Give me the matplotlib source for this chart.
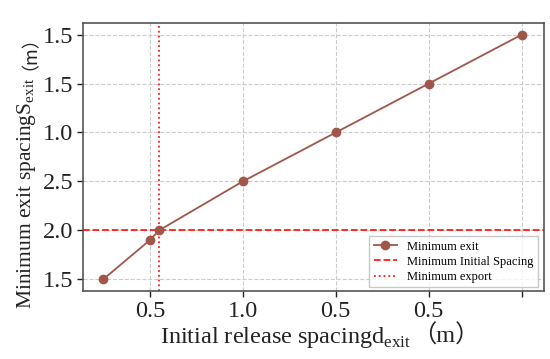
import matplotlib
matplotlib.use('Agg')
import matplotlib.pyplot as plt
from matplotlib.transforms import IdentityTransform

# Data
release_spacing = [0.25, 0.5, 0.55, 1.0, 1.5, 2.0, 2.5]
exit_spacing = [1.5, 1.9, 2.0, 2.5, 3.0, 3.5, 4.0]
min_initial_spacing = 2.0
min_export = 0.55

x_ticks = [0.5, 1.0, 1.5, 2.0, 2.5]
x_tick_labels = ['0.5', '1.0', '0.5', '0.5', '']
y_ticks = [1.5, 2.0, 2.5, 3.0, 3.5, 4.0]
y_tick_labels = ['1.5', '2.0', '2.5', '1.0', '1.5', '1.5']

x_label = 'Initial release spacingd$_{\\mathrm{exit}}$'
y_label = 'Minimum exit spacingS$_{\\mathrm{exit}}$'
unit = '（m）'

plt.rcParams['font.family'] = ['Liberation Serif', 'Noto Sans CJK SC', 'DejaVu Sans']
plt.rcParams['mathtext.fontset'] = 'custom'
plt.rcParams['mathtext.rm'] = 'Liberation Serif'

fig, ax = plt.subplots(figsize=(5.5, 3.59), dpi=100)
fig.subplots_adjust(left=0.151, right=0.989, top=0.936, bottom=0.189)

line_color = '#A0564A'
ax.plot(release_spacing, exit_spacing, color=line_color, marker='o',
        markersize=6, linewidth=1.3, label='Minimum exit', zorder=3)
ax.axhline(min_initial_spacing, color='#FF1A1A', linestyle='--', linewidth=1.3,
           label='Minimum Initial Spacing', zorder=2)
ax.axvline(min_export, color='#FF1A1A', linestyle=':', linewidth=1.3,
           label='Minimum export', zorder=2)

ax.set_xlim(0.14, 2.62)
ax.set_ylim(1.377, 4.12)
ax.set_xticks(x_ticks)
ax.set_xticklabels(x_tick_labels)
ax.set_yticks(y_ticks)
ax.set_yticklabels(y_tick_labels)
ax.tick_params(labelsize=17.5, colors='#222222', length=4, width=1, pad=3)

ax.grid(True, linestyle='--', color='#CCCCCC', linewidth=0.8)
for side in ['top', 'right', 'left', 'bottom']:
    ax.spines[side].set_color('#555555')
    ax.spines[side].set_linewidth(1.2)

leg = ax.legend(loc='lower right', fontsize=9, frameon=True, fancybox=False,
                edgecolor='#BBBBBB', handlelength=1.9, borderpad=0.35,
                labelspacing=0.25, borderaxespad=0.2,
                bbox_to_anchor=(0.993, 0.005))
for t in leg.get_texts():
    t.set_ha('center')

# axis labels: mathtext part, then the full-width unit placed right after it
px = IdentityTransform()
xkw = dict(fontsize=17.5, color='#222222', transform=px)
ykw = dict(fontsize=15.5, color='#222222', transform=px)
xl = fig.text(160, 16, x_label, ha='left', va='baseline', **xkw)
# measure the y label length with a horizontal copy
tmp = fig.text(0, 0, y_label, ha='left', va='baseline', **ykw)
fig.canvas.draw()
r = fig.canvas.get_renderer()
xb = xl.get_window_extent(r)
ylen = tmp.get_window_extent(r).width
tmp.remove()

y0 = 50
fig.text(31, y0, y_label, ha='left', va='baseline', rotation=90,
         rotation_mode='anchor', **ykw)
fig.text(xb.x1 + 1, 16, unit, ha='left', va='baseline', **xkw)
# single CJK family for the rotated unit (no glyph fallback)
fig.text(26, y0 + ylen + 8, unit, ha='left', va='baseline', rotation=90,
         rotation_mode='anchor', fontsize=13, color='#222222',
         fontfamily='Noto Sans CJK SC', transform=px)

fig.savefig('out.png', dpi=100)
